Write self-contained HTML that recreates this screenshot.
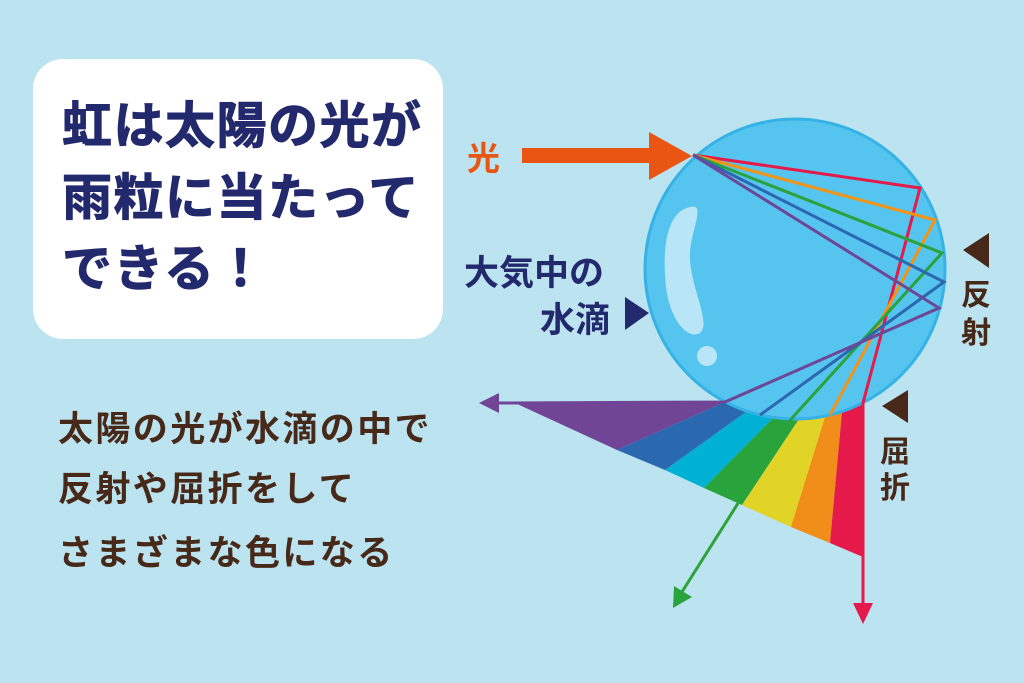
<!DOCTYPE html>
<html><head><meta charset="utf-8"><style>
html,body{margin:0;padding:0;background:#bce3f0;}
svg{display:block}
text{font-family:"Liberation Sans","Noto Sans CJK JP",sans-serif;font-weight:bold;}
</style></head><body>
<svg width="1024" height="683" viewBox="0 0 1024 683" xmlns="http://www.w3.org/2000/svg">
<rect width="1024" height="683" fill="#bce3f0"/>
<rect x="33" y="59" width="410" height="280" rx="30" fill="#fff"/>
<g fill="#22296c" font-size="50" letter-spacing="1.5" stroke="#22296c" stroke-width="1">
<text x="62" y="143">虹は太陽の光が</text>
<text x="62" y="215">雨粒に当たって</text>
<text x="62" y="286">できる！</text>
</g>
<g fill="#47291a" font-size="35" letter-spacing="2.4">
<text x="58" y="441">太陽の光が水滴の中で</text>
<text x="58" y="501">反射や屈折をして</text>
<text x="58" y="565">さまざまな色になる</text>
</g>
<!-- fan -->
<polygon points="515,403 725,402 617,450" fill="#714596"/>
<polygon points="725,402 746,412 665,470 617,450" fill="#2a68b0"/>
<polygon points="746,412 773,418 704,488 665,470" fill="#00b1d5"/>
<polygon points="773,418 799,419 742,505 704,488" fill="#29a33b"/>
<polygon points="799,419 825,417 791,527 742,505" fill="#e2d426"/>
<polygon points="825,417 842,412 830,543 791,527" fill="#f18d19"/>
<polygon points="842,412 863,403 863,557 830,543" fill="#e5194a"/>
<!-- circle -->
<circle cx="795" cy="269" r="150" fill="#55c4ee" stroke="#35b2e6" stroke-width="3"/>
<path d="M690,207 C666,212 662,250 666,287 C670,322 690,342 701,332 C710,321 692,290 690,260 C688,235 708,202 690,207 Z" fill="#b8e6f7"/>
<circle cx="707" cy="356" r="10" fill="#b8e6f7"/>
<!-- rays -->
<g fill="none" stroke-width="3" stroke-linejoin="miter">
<polyline points="693,155 920,188 863,403 863,612" stroke="#e5194a"/>
<polyline points="693,155 935,220 830,415" stroke="#f39417"/>
<polyline points="693,155 942,253 792,418 680,595" stroke="#2ba23a"/>
<polyline points="693,155 944,282 760,415" stroke="#2c68b1"/>
<polyline points="693,155 939,308 725,402 495,403" stroke="#6f4596"/>
</g>
<polygon points="479,403 499,393 499,413" fill="#714596"/>
<polygon points="863,624 853,603 873,603" fill="#e5194a"/>
<polygon points="673,608 674,586 692,597" fill="#29a33b"/>
<!-- light arrow -->
<rect x="522" y="148" width="130" height="15" fill="#e95513"/>
<polygon points="649,132 692,156 649,180" fill="#e95513"/>
<text x="467" y="170" font-size="33" fill="#e95513">光</text>
<g fill="#22296c" font-size="35">
<text x="464" y="285">大気中の</text>
<text x="540" y="332">水滴</text>
</g>
<polygon points="625,297 649,313 625,330" fill="#22296c"/>
<polygon points="989,233 963,250 989,268" fill="#47291a"/>
<polygon points="908,390 882,406 908,423" fill="#47291a"/>
<g fill="#47291a" font-size="30">
<text x="961" y="305">反</text>
<text x="961" y="343">射</text>
<text x="880" y="462">屈</text>
<text x="880" y="498">折</text>
</g>
</svg>
</body></html>
